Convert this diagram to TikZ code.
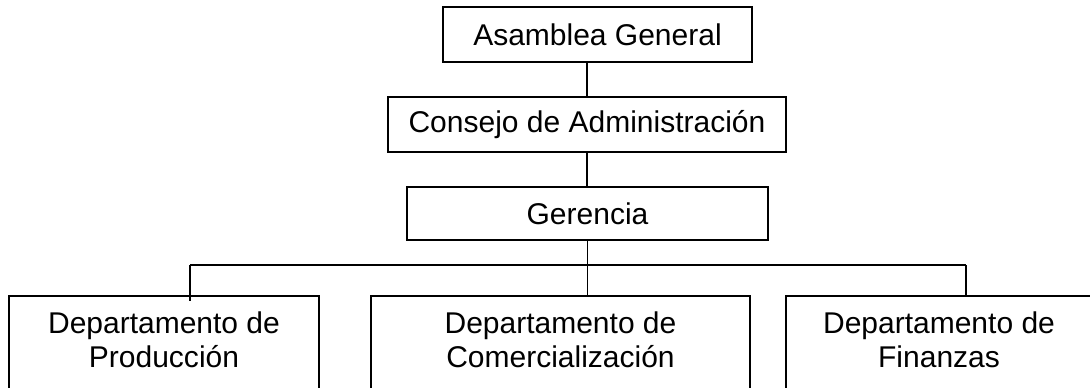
\documentclass[tikz,border=0pt]{standalone}
\usepackage{fontspec}
\setmainfont{Liberation Sans}
\usetikzlibrary{positioning}

\tikzset{
  caja/.style={draw, line width=0.75pt, inner sep=0pt},
  texto/.style={font=\fontsize{15}{17}\selectfont, align=center}
}

\begin{document}
\begin{tikzpicture}[x=0.5pt,y=-0.5pt,line width=0.75pt]
  \useasboundingbox (0,0) rectangle (1090,387);
  \clip (0,0) rectangle (1090,387);
  \node[caja,texto,minimum width=154.5pt,minimum height=27.5pt] (asamblea) at (597.5,34.5) {Asamblea General};
  \node[caja,texto,minimum width=199pt,minimum height=27.5pt] (consejo) at (587,124.5) {Consejo de Administración};
  \node[caja,texto,minimum width=180.5pt,minimum height=26.5pt] (gerencia) at (587.5,213.5) {Gerencia};
  % departamentos
  \node[caja,minimum width=155pt,minimum height=50pt] (prod) at (164,346) {};
  \node[caja,minimum width=189.5pt,minimum height=50pt] (comer) at (560.5,346) {};
  \node[caja,minimum width=153pt,minimum height=50pt] (fin) at (939,346) {};
  \node[texto] (prodtxt) at (164,340) {Departamento de\\Producción};
  \node[texto] (comertxt) at (560.5,340) {Departamento de\\Comercialización};
  \node[texto] (fintxt) at (939,340) {Departamento de\\Finanzas};
  \coordinate (izq) at (190,265);
  \coordinate (der) at (966,265);
  \draw (asamblea.south -| consejo.north) -- (consejo.north);
  \draw (consejo.south) -- (consejo.south |- gerencia.north);
  \draw (gerencia.south) -- (gerencia.south |- comer.north);
  \draw (izq) -- (der);
  \draw (izq) -- ([yshift=-3pt]izq |- prod.north);
  \draw (der) -- (der |- fin.north);
\end{tikzpicture}
\end{document}
